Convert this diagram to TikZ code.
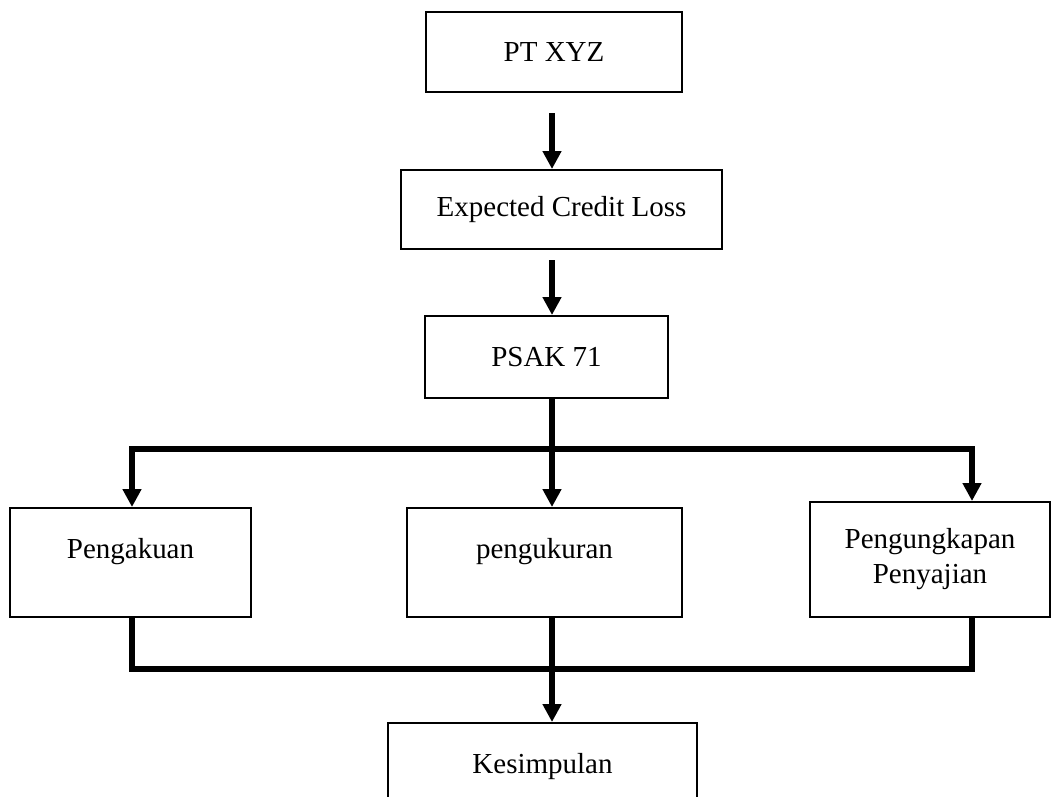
\documentclass[tikz,border=0pt]{standalone}
\usepackage{fontspec}
\setmainfont{Liberation Serif}
\usepackage{tikz}
\usetikzlibrary{calc,positioning,arrows.meta}
\newcommand{\lifted}[1]{\raisebox{0.22cm}[\height][\depth]{#1}}

\begin{document}
\begin{tikzpicture}[
		box/.style={shape=rectangle,draw,line width=0.04cm,inner sep=0pt,align=center,
			font=\fontsize{16.5}{19.9}\selectfont},
		flow/.style={line width=0.11cm},
		>={Triangle[length=0.36cm,width=0.36cm]}]
	\useasboundingbox (0,0) rectangle (21.08,-15.92);
	\node(pt)     [box,minimum width=5.12cm,minimum height=1.6cm]  at (11.08,-1.04)  {PT XYZ};
	\node(ecl)    [box,minimum width=6.42cm,minimum height=1.58cm] at (11.23,-4.19)  {Expected Credit Loss};
	\node(psak)   [box,minimum width=4.86cm,minimum height=1.64cm] at (10.93,-7.14)  {PSAK 71};
	\node(akui)   [box,minimum width=4.82cm,minimum height=2.18cm] at (2.61,-11.25)  {\lifted{Pengakuan}};
	\node(ukur)   [box,minimum width=5.5cm,minimum height=2.18cm]  at (10.89,-11.25) {\lifted{pengukuran}};
	\node(ungkap) [box,minimum width=4.8cm,minimum height=2.3cm]   at (18.6,-11.19)  {Pengungkapan\\Penyajian};
	\node(kes)    [box,minimum width=6.18cm,minimum height=2.18cm] at (10.85,-15.55) {\lifted{Kesimpulan}};
	\coordinate (cl) at (2.64,-8.98);
	\coordinate (cm) at (11.04,-8.98);
	\coordinate (cr) at (19.44,-8.98);
	\coordinate (jl) at (2.64,-13.38);
	\coordinate (jr) at (19.44,-13.38);
	\draw[flow,->,shorten <=0.4cm] (pt.south -| cm) -- (ecl.north -| cm);
	\draw[flow,->,shorten <=0.2cm] (ecl.south -| cm) -- (psak.north -| cm);
	\draw[flow,->] (psak.south -| cm) -- (ukur.north -| cm);
	\draw[flow,<->] (akui.north -| cl) -- (cl) -- (cr) -- (ungkap.north -| cr);
	\draw[flow] (akui.south -| cl) -- (jl) -- (jr) -- (ungkap.south -| cr);
	\draw[flow,->] (ukur.south -| cm) -- (kes.north -| cm);
\end{tikzpicture}
\end{document}
